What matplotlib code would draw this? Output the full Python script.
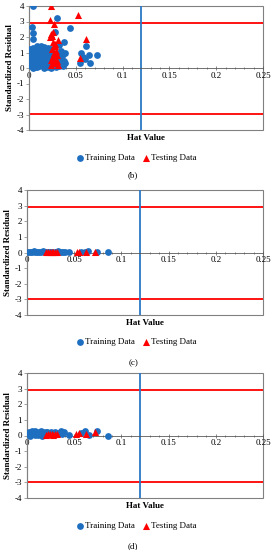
import matplotlib
matplotlib.use("Agg")
import matplotlib.pyplot as plt
from matplotlib.patches import Rectangle
from matplotlib.ticker import MultipleLocator, FuncFormatter

plt.rcParams['font.family'] = ['Liberation Serif', 'DejaVu Serif']
plt.rcParams['axes.unicode_minus'] = False

# ---------------- data ----------------
train_b_x = [0.0046, 0.0036, 0.004, 0.0046, 0.030, 0.044, 0.028, 0.037, 0.032, 0.061, 0.056, 0.058,
             0.064, 0.073, 0.054, 0.065, 0.060,
             0.001, 0.002, 0.003, 0.004, 0.005, 0.006, 0.007, 0.008, 0.009, 0.010, 0.011, 0.012,
             0.013, 0.014, 0.015, 0.016, 0.017, 0.018, 0.019, 0.020, 0.021, 0.022, 0.023, 0.024,
             0.025, 0.027, 0.029, 0.031, 0.033, 0.034, 0.035, 0.036, 0.037, 0.038,
             0.002, 0.003, 0.005, 0.006, 0.008, 0.009, 0.010, 0.012, 0.013, 0.014, 0.016, 0.017,
             0.018, 0.020, 0.021, 0.022, 0.024, 0.026, 0.028, 0.030, 0.032, 0.034, 0.036, 0.038,
             0.001, 0.004, 0.007, 0.011, 0.015, 0.019, 0.023, 0.027]
train_b_y = [4.0, 2.67, 2.24, 1.9, 3.2, 2.6, 2.35, 1.7, 1.5, 1.45, 1.0, 0.7,
             0.85, 0.84, 0.35, 0.35, 0.55,
             0.5, 0.9, 0.2, 1.3, 0.6, 0.05, 1.0, 0.4, 1.4, 0.8, 0.1, 1.2,
             0.5, 0.95, 0.25, 1.35, 0.65, 0.05, 1.1, 0.4, 0.8, 0.15, 0.55, 1.25,
             0.3, 0.9, 0.05, 0.6, 0.3, 1.1, 0.75, 0.15, 0.45, 1.0,
             0.1, 0.7, 1.1, 0.35, 0.75, 0.05, 1.2, 0.3, 1.4, 0.6, 0.0, 1.0,
             0.45, 1.3, 0.05, 0.95, 0.7, 0.2, 0.5, 1.0, 0.1, 0.5, 0.9, 0.3,
             1.2, 0.0, 0.55, 0.45, 0.8, 0.6, 0.0, 0.6]
test_b_x = [0.0235, 0.052, 0.0224, 0.027, 0.026, 0.023, 0.022, 0.025, 0.031, 0.026, 0.061, 0.028,
            0.025, 0.029, 0.027, 0.030, 0.026, 0.028, 0.024, 0.030, 0.027, 0.054, 0.031, 0.024, 0.028]
test_b_y = [4.0, 3.44, 3.12, 2.85, 2.34, 2.2, 1.98, 2.05, 1.8, 1.65, 1.87, 1.4,
            1.2, 1.1, 0.95, 0.85, 0.75, 0.6, 0.5, 0.45, 0.35, 0.62, 0.2, 0.2, 1.55]

train_c_x = [0.001, 0.003, 0.005, 0.007, 0.009, 0.011, 0.013, 0.015, 0.017, 0.019, 0.021, 0.023,
             0.025, 0.027, 0.030, 0.033, 0.036, 0.038, 0.040, 0.045, 0.057, 0.061, 0.065, 0.074, 0.086]
train_c_y = [0.05, 0.06, 0.04, 0.07, 0.05, 0.06, 0.04, 0.05, 0.07, 0.05, 0.04, 0.06,
             0.05, 0.06, 0.05, 0.07, 0.04, 0.06, 0.05, 0.03, 0.06, 0.05, 0.07, 0.06, 0.04]
test_c_x = [0.020, 0.022, 0.024, 0.026, 0.028, 0.030, 0.032, 0.053, 0.055, 0.062, 0.072]
test_c_y = [0.05, 0.06, 0.05, 0.04, 0.06, 0.05, 0.05, 0.04, 0.05, 0.06, 0.05]

train_d_x = [0.001, 0.002, 0.004, 0.005, 0.007, 0.009, 0.011, 0.013, 0.015, 0.017, 0.019, 0.021,
             0.023, 0.025, 0.027, 0.030, 0.033, 0.036, 0.037, 0.039, 0.045, 0.057, 0.061, 0.066,
             0.074, 0.086, 0.003, 0.008, 0.012, 0.016, 0.020]
train_d_y = [0.15, 0.25, 0.1, 0.3, 0.2, 0.05, 0.25, 0.15, 0.3, 0.2, 0.1, 0.25,
             0.15, 0.2, 0.1, 0.2, 0.15, 0.3, 0.1, 0.2, 0.05, 0.15, 0.28, 0.05,
             0.3, 0.0, 0.0, 0.3, 0.05, 0.0, 0.2]
test_d_x = [0.020, 0.022, 0.024, 0.026, 0.028, 0.030, 0.032, 0.052, 0.055, 0.062, 0.072]
test_d_y = [0.05, 0.1, 0.08, 0.12, 0.05, 0.1, 0.07, 0.1, 0.15, 0.1, 0.2]

upper_limit = 2.9
lower_limit = -2.95
hat_star = 0.12
panel_labels = ['(b)', '(c)', '(d)']

# ---------------- style ----------------
BLUE = '#1f6fc0'
LINE_BLUE = '#2a7ac4'
RED = '#ff0000'
FRAME = '#808080'
FS = 6.5

fig = plt.figure(figsize=(2.72, 5.5), dpi=100)

# [left, bottom, width, height], legend y, panel label y
layout = [
    ([29/272, 1-130/550, 234/272, 124/550], 1-158/550, 1-175/550),
    ([27/272, 1-315/550, 236/272, 125/550], 1-342/550, 1-363/550),
    ([27/272, 1-498/550, 236/272, 125/550], 1-526/550, 1-546/550),
]
datasets = [
    (train_b_x, train_b_y, test_b_x, test_b_y),
    (train_c_x, train_c_y, test_c_x, test_c_y),
    (train_d_x, train_d_y, test_d_x, test_d_y),
]

fmt = FuncFormatter(lambda v, p: f"{v:g}")

for (rect, ly, py), (trx, tr_y, tex, tey), plab in zip(layout, datasets, panel_labels):
    ax = fig.add_axes(rect)
    ax.set_xlim(0, 0.25)
    ax.set_ylim(-4, 4)
    ax.axhline(upper_limit, color=RED, lw=1.3, zorder=2)
    ax.axhline(lower_limit, color=RED, lw=1.3, zorder=2)
    ax.axvline(hat_star, color=LINE_BLUE, lw=1.3, zorder=2)
    h1 = ax.scatter(trx, tr_y, s=24, marker='o', color=BLUE, zorder=3, linewidths=0,
                    label='Training Data')
    h2 = ax.scatter(tex, tey, s=26, marker='^', color=RED, zorder=4, linewidths=0,
                    label='Testing Data')

    for side in ['top', 'right']:
        ax.spines[side].set_visible(False)
    ax.spines['bottom'].set_position(('data', 0))
    ax.spines['bottom'].set_color('#595959')
    ax.spines['bottom'].set_linewidth(0.6)
    ax.spines['left'].set_color(FRAME)
    ax.spines['left'].set_linewidth(0.8)
    ax.add_patch(Rectangle((0, 0), 1, 1, transform=ax.transAxes, fill=False,
                           edgecolor=FRAME, lw=0.8, zorder=1, clip_on=False))

    ax.xaxis.set_major_locator(MultipleLocator(0.05))
    ax.xaxis.set_minor_locator(MultipleLocator(0.01))
    ax.xaxis.set_major_formatter(fmt)
    ax.yaxis.set_major_locator(MultipleLocator(1))
    ax.yaxis.set_major_formatter(fmt)
    ax.tick_params(axis='x', which='major', direction='inout', length=3, width=0.5,
                   labelsize=FS, pad=1.2, color='#595959')
    ax.tick_params(axis='x', which='minor', direction='inout', length=2, width=0.5,
                   color='#595959')
    ax.tick_params(axis='y', which='major', direction='out', length=2, width=0.5,
                   labelsize=FS, pad=1.5, color=FRAME)

    ax.set_xlabel('Hat Value', fontsize=FS, fontweight='bold')
    ax.xaxis.set_label_coords(0.5, -0.035)
    ax.set_ylabel('Standardized Residual', fontsize=FS, fontweight='bold', labelpad=2)

    fig.legend(handles=[h1, h2], loc='center', bbox_to_anchor=(0.5, ly), ncol=2,
               frameon=False, fontsize=FS, handletextpad=0.05, columnspacing=0.8,
               handlelength=1.0, markerscale=1.0)
    fig.text(0.49, py, plab, ha='center', va='center', fontsize=FS)

fig.savefig('out.png', dpi=100)
